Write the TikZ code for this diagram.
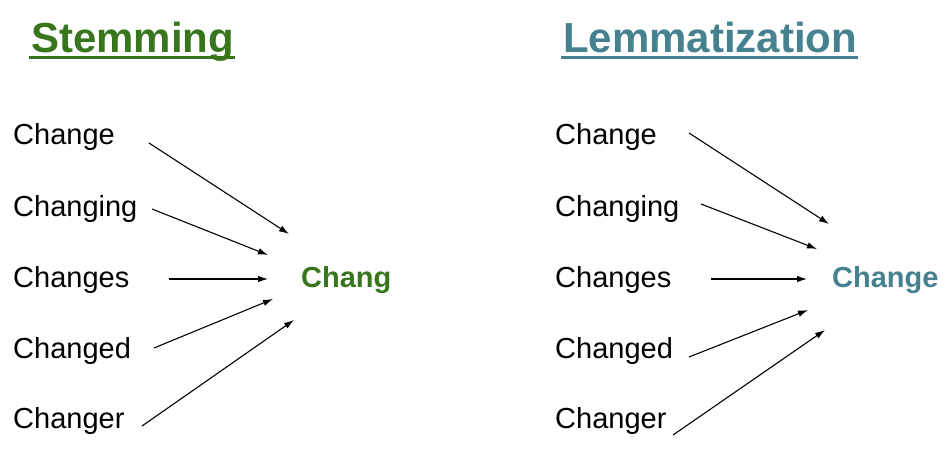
\documentclass[tikz,border=0pt]{standalone}
\usepackage{fontspec}
\setmainfont{Liberation Sans}
\usetikzlibrary{arrows.meta}
\definecolor{stemgreen}{HTML}{38761D}
\definecolor{lemmateal}{HTML}{45818E}
\begin{document}
\begin{tikzpicture}[x=1pt,y=-1pt,
  word/.style={anchor=base west,inner sep=0pt,font=\fontsize{29}{34}\selectfont},
  result/.style={anchor=base west,inner sep=0pt,font=\fontsize{29}{34}\selectfont\bfseries},
  title/.style={anchor=base west,inner sep=0pt,font=\fontsize{42}{48}\selectfont\bfseries},
  link/.style={line width=1.1pt,-{Latex[length=10pt,width=6.5pt]}}]
\useasboundingbox (0,0) rectangle (952,458);

% headings with underline
\node[title,text=stemgreen] (tstem) at (31,52) {Stemming};
\node[title,text=lemmateal] (tlem) at (563,52) {Lemmatization};
\draw[stemgreen,line width=3.6pt] ([shift={(-2,5.5)}]tstem.base west) -- ([shift={(1,5.5)}]tstem.base east);
\draw[lemmateal,line width=3.6pt] ([shift={(-2,5.5)}]tlem.base west) -- ([shift={(1,5.5)}]tlem.base east);

% stemming column
\node[word] (s1) at (13,144) {Change};
\node[word] (s2) at (13,216) {Changing};
\node[word] (s3) at (13,287) {Changes};
\node[word] (s4) at (13,358) {Changed};
\node[word] (s5) at (13,428) {Changer};
\node[result,text=stemgreen] (sr) at (301,287) {Chang};

% lemmatization column
\node[word] (l1) at (555,144) {Change};
\node[word] (l2) at (555,216) {Changing};
\node[word] (l3) at (555,287) {Changes};
\node[word] (l4) at (555,358) {Changed};
\node[word] (l5) at (555,428) {Changer};
\node[result,text=lemmateal] (lr) at (832,287) {Change};

% arrow tails and heads
\coordinate (sa1) at (149,143); \coordinate (sb1) at (289,234);
\coordinate (sa2) at (152,209); \coordinate (sb2) at (268,255);
\coordinate (sa3) at (169,279); \coordinate (sb3) at (268,279);
\coordinate (sa4) at (154,348); \coordinate (sb4) at (273,299);
\coordinate (sa5) at (142,426); \coordinate (sb5) at (294,320);
\coordinate (la1) at (689,133); \coordinate (lb1) at (829,224);
\coordinate (la2) at (701,204); \coordinate (lb2) at (817,249);
\coordinate (la3) at (711,279); \coordinate (lb3) at (807,279);
\coordinate (la4) at (689,357); \coordinate (lb4) at (808,310);
\coordinate (la5) at (673,435); \coordinate (lb5) at (825,330);

\foreach \i in {1,...,5} {
  \draw[link] (sa\i) -- (sb\i);
  \draw[link] (la\i) -- (lb\i);
}
\end{tikzpicture}
\end{document}
